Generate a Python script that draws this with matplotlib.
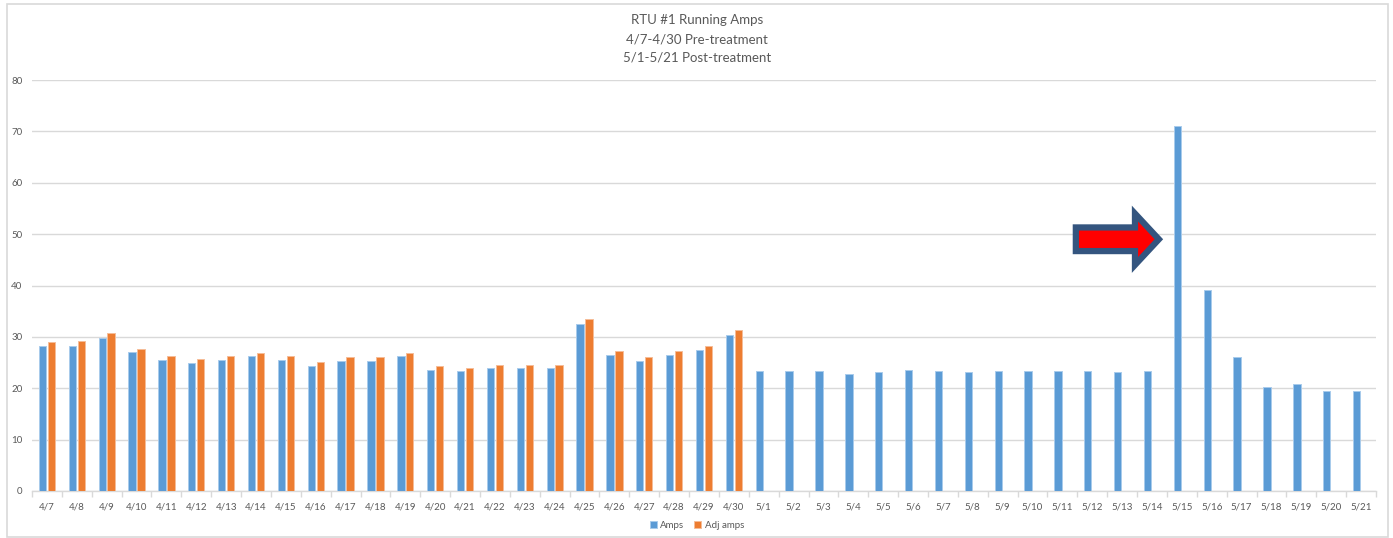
import matplotlib
matplotlib.use("Agg")
import matplotlib.pyplot as plt
from matplotlib.patches import Polygon, Rectangle
import numpy as np

plt.rcParams['font.family'] = ['Lato', 'DejaVu Sans']

dates = ['4/7', '4/8', '4/9', '4/10', '4/11', '4/12', '4/13', '4/14', '4/15', '4/16',
         '4/17', '4/18', '4/19', '4/20', '4/21', '4/22', '4/23', '4/24', '4/25', '4/26',
         '4/27', '4/28', '4/29', '4/30',
         '5/1', '5/2', '5/3', '5/4', '5/5', '5/6', '5/7', '5/8', '5/9', '5/10',
         '5/11', '5/12', '5/13', '5/14', '5/15', '5/16', '5/17', '5/18', '5/19', '5/20', '5/21']

amps = [28.2, 28.3, 29.8, 27.0, 25.5, 25.0, 25.5, 26.2, 25.5, 24.4,
        25.3, 25.3, 26.3, 23.6, 23.3, 24.0, 23.9, 23.9, 32.6, 26.5,
        25.3, 26.5, 27.5, 30.4,
        23.3, 23.3, 23.3, 22.8, 23.1, 23.6, 23.3, 23.1, 23.3, 23.3,
        23.3, 23.3, 23.1, 23.3, 71.0, 39.1, 26.1, 20.3, 20.9, 19.4, 19.4]

adj_amps = [29.0, 29.1, 30.7, 27.7, 26.2, 25.7, 26.2, 26.8, 26.2, 25.2,
            26.0, 26.0, 26.9, 24.3, 24.0, 24.6, 24.5, 24.5, 33.5, 27.2,
            26.0, 27.2, 28.3, 31.3]

title_lines = ['RTU #1 Running Amps', '4/7-4/30 Pre-treatment', '5/1-5/21 Post-treatment']

BLUE = '#5B9BD5'
ORANGE = '#ED7D31'
GRID = '#D9D9D9'
TEXT = '#595959'

fig = plt.figure(figsize=(13.93, 5.38), dpi=100)
ax = fig.add_axes([32 / 1393, 1 - 491 / 538, (1376 - 32) / 1393, (491 - 80) / 538])

x = np.arange(len(dates))
w = 0.245
off = 0.15
ax.bar(x - off, amps, width=w, color=BLUE, edgecolor='#A8CBEC', linewidth=0.7,
       label='Amps', zorder=3)
ax.bar(np.arange(len(adj_amps)) + off, adj_amps, width=w, color=ORANGE,
       edgecolor='#F6BC98', linewidth=0.7, label='Adj amps', zorder=3)

ax.set_xlim(-0.5, len(dates) - 0.5)
ax.set_ylim(0, 80)
ax.set_yticks(np.arange(0, 81, 10))
ax.yaxis.grid(True, color=GRID, linewidth=1.0, zorder=0)
ax.set_axisbelow(True)

for s in ['top', 'right', 'left']:
    ax.spines[s].set_visible(False)
ax.spines['bottom'].set_color(GRID)
ax.spines['bottom'].set_linewidth(1.0)

ax.set_xticks(x)
ax.set_xticklabels(dates)
ax.set_xticks(np.arange(-0.5, len(dates), 1), minor=True)
ax.tick_params(axis='x', which='major', length=0, pad=8, labelsize=7, labelcolor=TEXT)
ax.tick_params(axis='x', which='minor', length=4, color=GRID, width=1.0)
ax.tick_params(axis='y', length=0, pad=7, labelsize=7, labelcolor=TEXT)

# Block arrow pointing at the spike
ax_x0, ax_hb, ax_tip = 34.45, 36.43, 37.23
yc, bh, hh = 49.0, 2.3, 5.0
arrow_pts = [(ax_x0, yc - bh), (ax_hb, yc - bh), (ax_hb, yc - hh), (ax_tip, yc),
             (ax_hb, yc + hh), (ax_hb, yc + bh), (ax_x0, yc + bh)]
ax.add_patch(Polygon(arrow_pts, closed=True, facecolor='#FF0000', edgecolor='#34557F',
                     linewidth=4.5, joinstyle='miter', zorder=5))

# Title
for i, line in enumerate(title_lines):
    fig.text(697 / 1393, 1 - (20 + i * 19) / 538, line, ha='center', va='center',
             fontsize=9.5, color=TEXT)

leg = fig.legend(loc='center', bbox_to_anchor=(697 / 1393, 1 - 525 / 538), ncol=2,
                 frameon=False, fontsize=7, handlelength=0.7, handleheight=0.7,
                 handletextpad=0.4, columnspacing=1.0)
for t in leg.get_texts():
    t.set_color(TEXT)

# Chart frame
fig.patches.append(Rectangle((7 / 1393, 1 / 538), (1388 - 7) / 1393, (534 - 1) / 538,
                             transform=fig.transFigure, fill=False,
                             edgecolor='#D9D9D9', linewidth=1.2))

fig.savefig('out.png', dpi=100)
